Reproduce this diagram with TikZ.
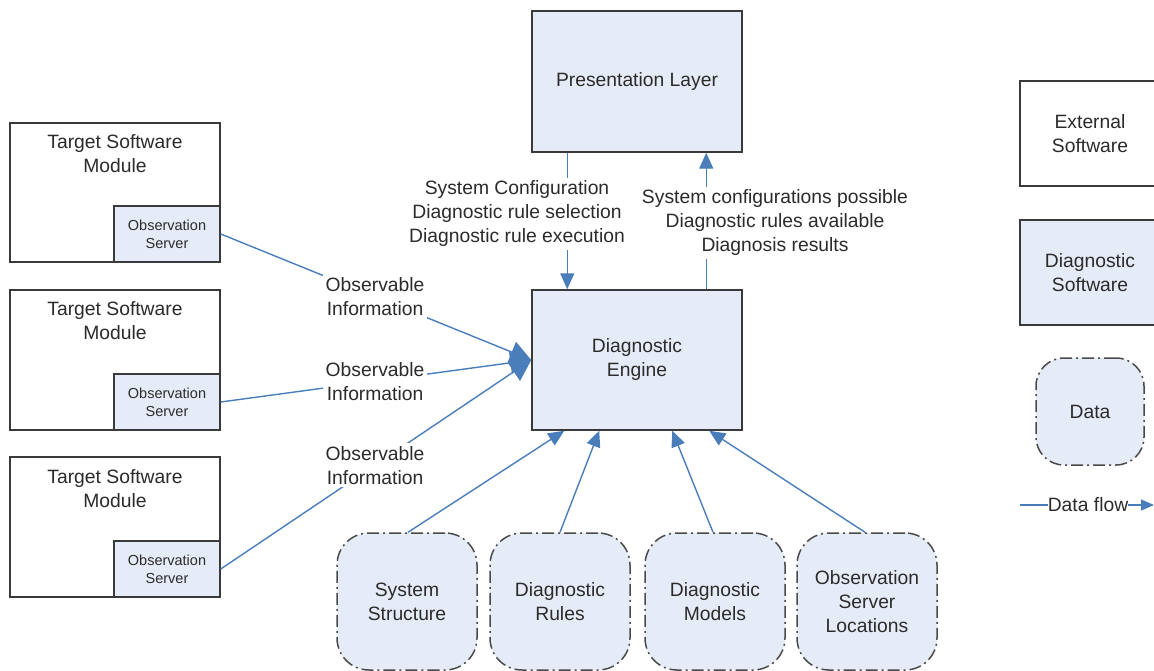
\documentclass[tikz,border=0pt]{standalone}
\usepackage{fontspec}
\setmainfont{Liberation Sans}
\usetikzlibrary{arrows.meta}
\definecolor{flowblue}{HTML}{4A7EBB}
\definecolor{boxfill}{HTML}{E6ECF7}
\definecolor{edgegray}{HTML}{3A3A3A}
\definecolor{dashgray}{HTML}{4A4A4A}
\definecolor{txt}{HTML}{2B2B2B}
\begin{document}
\begin{tikzpicture}[x=1pt,y=-1pt,
  every node/.style={text=txt, font=\fontsize{19.3pt}{24pt}\selectfont, align=center, inner sep=0pt},
  extbox/.style={draw=edgegray, line width=1.5pt, fill=white, minimum width=210pt},
  diagbox/.style={draw=edgegray, line width=1.5pt, fill=boxfill},
  obsbox/.style={diagbox, minimum width=106pt, minimum height=56pt, font=\fontsize{14.5pt}{18pt}\selectfont},
  databox/.style={draw=dashgray, line width=1.5pt, fill=boxfill, rounded corners=32pt,
    dash pattern=on 12pt off 4pt on 2pt off 4pt},
  flow/.style={draw=flowblue, line width=1.4pt, -{Triangle[length=16pt,width=14pt]}},
  bigflow/.style={draw=flowblue, line width=1.4pt, -{Triangle[length=21pt,width=22pt]}},
  lbl/.style={fill=white, inner sep=3pt}
]
\useasboundingbox (0,0) rectangle (1154,671);
\clip (0,0) rectangle (1154,671);

% Target software modules
\node[extbox, minimum height=139pt] (t1) at (115,192.5) {};
\node[extbox, minimum height=140pt] (t2) at (115,360) {};
\node[extbox, minimum height=140pt] (t3) at (115,527) {};
\node (t1l) at (115,154) {Target Software\\Module};
\node (t2l) at (115,321) {Target Software\\Module};
\node (t3l) at (115,489) {Target Software\\Module};
\node[obsbox] (os1) at (167,234) {Observation\\Server};
\node[obsbox] (os2) at (167,402) {Observation\\Server};
\node[obsbox] (os3) at (167,569) {Observation\\Server};

% Central boxes
\node[diagbox, minimum width=210pt, minimum height=141pt] (pres) at (637,81.5) {Presentation Layer};
\node[diagbox, minimum width=210pt, minimum height=140pt] (eng) at (637,360) {Diagnostic\\Engine};

% Data stores
\node[databox, minimum width=140pt, minimum height=137pt] (ss) at (407,601.5) {System\\Structure};
\node[databox, minimum width=140pt, minimum height=137pt] (dr) at (560,601.5) {Diagnostic\\Rules};
\node[databox, minimum width=140pt, minimum height=137pt] (dm) at (715,601.5) {Diagnostic\\Models};
\node[databox, minimum width=140pt, minimum height=137pt] (osl) at (867,601.5) {Observation\\Server\\Locations};

% Legend
\node[extbox, minimum width=140pt, minimum height=105pt] (lext) at (1090,133.5) {External\\Software};
\node[diagbox, minimum width=140pt, minimum height=105pt] (ldiag) at (1090,272.5) {Diagnostic\\Software};
\node[databox, minimum width=108pt, minimum height=107pt, rounded corners=28pt] (ldata) at (1090,411.5) {Data};
\coordinate (dfa) at (1020,505);
\node (dft) at (1088,505) {Data flow};
\coordinate (dfb) at (1154,505);
\draw[draw=flowblue, line width=1.4pt] (dfa) -- (dft.west);
\draw[draw=flowblue, line width=1.4pt, -{Triangle[length=13pt,width=11pt]}] (dft.east) -- (dfb);

% Observable information flows
\draw[bigflow] (os1.east) -- node[lbl, pos=0.497] (ob1) {Observable\\Information} (eng.west);
\draw[bigflow] (os2.east) -- node[lbl, pos=0.497] (ob2) {Observable\\Information} (eng.west);
\draw[bigflow] (os3.east) -- node[lbl, pos=0.497] (ob3) {Observable\\Information} (eng.west);

% Presentation <-> engine
\draw[flow] ([xshift=36pt]pres.south west) -- ([xshift=36pt]eng.north west);
\draw[flow] ([xshift=175pt]eng.north west) -- ([xshift=175pt]pres.south west);
\node[lbl] (cfg) at (517,214) {System Configuration\\Diagnostic rule selection\\Diagnostic rule execution};
\node[lbl] (res) at (775,223) {System configurations possible\\Diagnostic rules available\\Diagnosis results};

% Data stores to engine
\draw[flow] ([xshift=1pt]ss.north) -- ([xshift=33pt]eng.south west);
\draw[flow] (dr.north) -- ([xshift=68pt]eng.south west);
\draw[flow] ([xshift=-2pt]dm.north) -- ([xshift=141pt]eng.south west);
\draw[flow] ([xshift=-2pt]osl.north) -- ([xshift=178pt]eng.south west);
\end{tikzpicture}
\end{document}
